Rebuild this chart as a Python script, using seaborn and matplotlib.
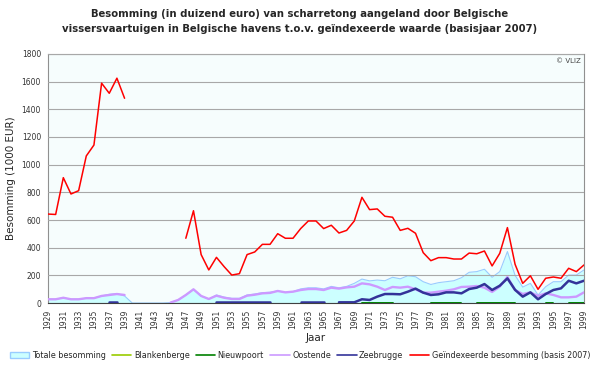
import numpy as np
import pandas as pd
import matplotlib
matplotlib.use("Agg")
import matplotlib.pyplot as plt
import seaborn as sns
from matplotlib.patches import Patch
from matplotlib.lines import Line2D

# data (1000 EUR), 1929-1999
jaren = list(range(1929, 2000))

totale = [27, 27, 38, 27, 27, 35, 35, 51, 63, 68, 51,
          0, 0, 0, 0, 0, 3, 22, 58, 99, 51, 29,
          58, 43, 34, 34, 58, 65, 75, 78, 87, 77, 82,
          102, 110, 110, 102, 120, 110, 120, 142,
          173, 160, 166, 161, 186, 175, 197, 190, 154, 134,
          147, 154, 161, 183, 222, 227, 244, 186, 227, 372,
          200, 115, 142, 58, 118, 154, 154, 202, 202, 239]

blankenberge = [np.nan] * len(jaren)

nieuwpoort = [np.nan] * 41 + [3, 3, 3, 3, 3,
              np.nan, np.nan, np.nan, np.nan,
              3, 3, 3, 3, 3, np.nan,
              3, 3, 3, 3, 3, 3,
              np.nan, np.nan, np.nan, 3, 3, np.nan, 3, 3, 3]

oostende = [27, 27, 38, 27, 27, 35, 35, 51, 58, 65, 58,
            np.nan, np.nan, np.nan, np.nan, np.nan,
            3, 22, 58, 99, 51, 29,
            53, 38, 29, 29, 53, 60, 70, 73, 87, 77, 82,
            94, 101, 101, 94, 111, 104, 113, 118,
            142, 135, 118, 94, 116, 111, 118, 99, 75, 75,
            82, 89, 99, 116, 118, 123, 111, 80, 118, 188,
            94, 65, 77, 51, 70, 58, 41, 41, 46, 77]

zeebrugge = [np.nan] * 8 + [5, 5] + [np.nan] * 12 + [5] * 8 + [np.nan] * 3 + \
            [8, 8, 8, 8, np.nan, 5, 5, 5,
             27, 22, 46, 65, 65, 63, 82, 104, 75, 58,
             63, 77, 77, 70, 101, 111, 137, 94, 125, 178,
             95, 46, 77, 27, 65, 94, 106, 161, 142, 161]

geindexeerd = [643, 640, 906, 788, 812, 1063, 1142, 1589, 1516, 1625, 1480,
               np.nan, np.nan, np.nan, np.nan, np.nan, np.nan, np.nan,
               468, 667, 350, 239,
               330, 263, 202, 212, 350, 369, 424, 424, 501, 468, 468,
               538, 593, 593, 538, 562, 506, 525, 593,
               764, 675, 680, 627, 620, 525, 540, 504, 364, 306,
               328, 328, 318, 318, 361, 356, 376, 268, 359, 545,
               280, 142, 197, 99, 179, 188, 179, 251, 227, 275]

kleuren = {
    "Totale besomming": "#99ccff",
    "Blankenberge": "#99cc00",
    "Nieuwpoort": "#008000",
    "Oostende": "#cc99ff",
    "Zeebrugge": "#333399",
    "Geïndexeerde besomming (basis 2007)": "#ff0000",
}


def segmenten(waarden):
    # split a series with gaps into contiguous pieces (for units=)
    df = pd.DataFrame({"jaar": jaren, "waarde": waarden})
    leeg = df["waarde"].isna()
    df["seg"] = leeg.cumsum()
    return df[~leeg]


sns.set_style("white")
plt.rcParams["font.family"] = ["DejaVu Sans"]

fig = plt.figure(figsize=(6, 3.68), dpi=100)
ax = fig.add_axes([0.08, 0.1766, 0.8933, 0.6767])
ax.set_facecolor("#f6fdfd")

ax.fill_between(jaren, totale, color="#ccffff", linewidth=0, zorder=1)
sns.lineplot(data=segmenten(totale), x="jaar", y="waarde", units="seg", estimator=None,
             color=kleuren["Totale besomming"], linewidth=0.8, ax=ax, legend=False, zorder=2)

reeksen = [("Blankenberge", blankenberge, 1.2),
           ("Nieuwpoort", nieuwpoort, 1.4),
           ("Oostende", oostende, 1.7),
           ("Zeebrugge", zeebrugge, 1.8),
           ("Geïndexeerde besomming (basis 2007)", geindexeerd, 1.1)]
for naam, waarden, lw in reeksen:
    d = segmenten(waarden)
    if len(d):
        sns.lineplot(data=d, x="jaar", y="waarde", units="seg", estimator=None,
                     color=kleuren[naam], linewidth=lw, ax=ax, legend=False, zorder=3)

ax.set_xlim(1929, 1999)
ax.set_ylim(0, 1800)
ax.set_yticks(range(0, 1801, 200))
ax.set_xticks(jaren)
ax.set_xticklabels([str(j) if (j - 1929) % 2 == 0 else "" for j in jaren],
                   rotation=90, fontsize=5.5, color="#333333")
ax.tick_params(axis="y", labelsize=5.5, labelcolor="#333333", length=3, width=0.6,
               color="#808080", pad=2)
ax.tick_params(axis="x", length=3, width=0.6, color="#606060", pad=2)
ax.grid(axis="y", color="#a8a8a8", linewidth=0.8)
ax.set_axisbelow(False)
for s in ax.spines.values():
    s.set_color("#909090")
    s.set_linewidth(0.8)
ax.spines["bottom"].set_color("#404040")

ax.set_xlabel("Jaar", fontsize=7.5, labelpad=3)
ax.set_ylabel("Besomming (1000 EUR)", fontsize=7.5, labelpad=4)
fig.suptitle("Besomming (in duizend euro) van scharretong aangeland door Belgische\n"
             "vissersvaartuigen in Belgische havens t.o.v. geïndexeerde waarde (basisjaar 2007)",
             fontsize=7.3, fontweight="bold", y=0.975, linespacing=1.55)
ax.text(0.995, 0.985, "© VLIZ", transform=ax.transAxes, ha="right", va="top",
        fontsize=5, color="#444444")

handles = [Patch(facecolor="#ccffff", edgecolor="#99ccff", label="Totale besomming")]
for naam in list(kleuren)[1:]:
    handles.append(Line2D([], [], color=kleuren[naam], linewidth=1.2, label=naam))
fig.legend(handles=handles, loc="center", bbox_to_anchor=(0.5, 0.035), ncol=6,
           frameon=False, fontsize=5.8, handlelength=2.4, handletextpad=0.3,
           columnspacing=0.8)

fig.savefig("out.png", dpi=100)
